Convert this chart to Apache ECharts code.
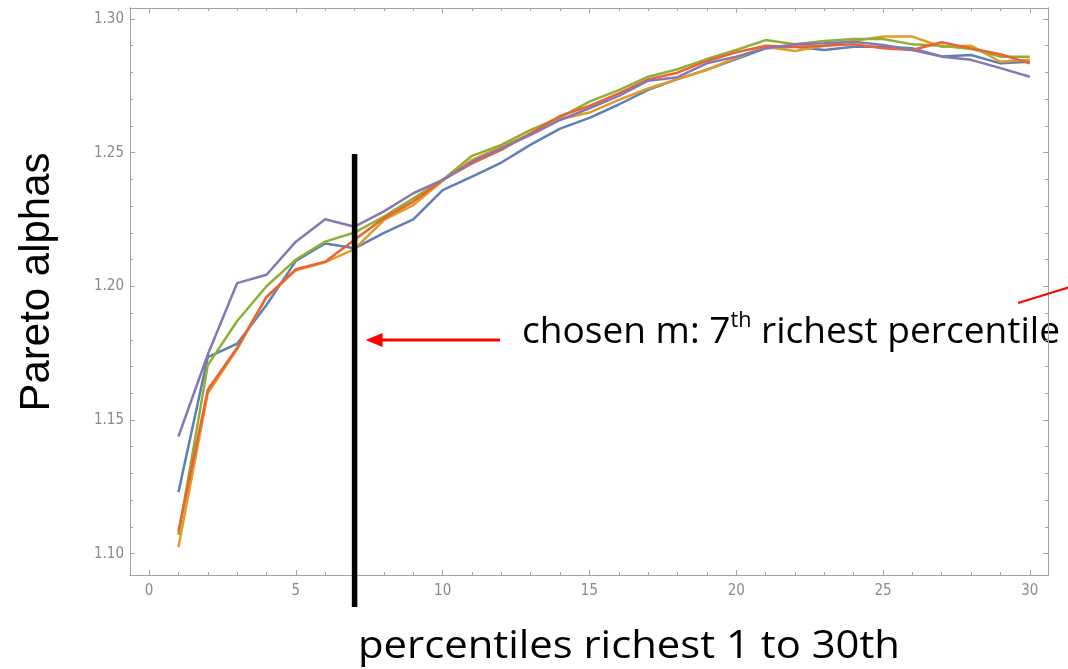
<!DOCTYPE html>
<html>
<head>
<meta charset="utf-8">
<script src="https://cdn.jsdelivr.net/npm/echarts@6/dist/echarts.min.js"></script>
<style>
  html, body { margin: 0; padding: 0; background: #ffffff; }
  #chart { width: 1068px; height: 669px; }
</style>
</head>
<body>
<div id="chart"></div>
<script>
// Percentile rank (1 = richest percentile) used as the threshold m
const percentiles = [1, 2, 3, 4, 5, 6, 7, 8, 9, 10, 11, 12, 13, 14, 15,
                     16, 17, 18, 19, 20, 21, 22, 23, 24, 25, 26, 27, 28, 29, 30];

// Estimated Pareto alpha for each threshold, one array per sample
const alphaSample1 = [1.123, 1.1735, 1.1785, 1.193, 1.2095, 1.216, 1.2142, 1.220, 1.225, 1.236,
                      1.241, 1.2463, 1.253, 1.259, 1.263, 1.268, 1.2735, 1.2775, 1.281, 1.285,
                      1.289, 1.2896, 1.2884, 1.2896, 1.2896, 1.289, 1.286, 1.2865, 1.2834, 1.284];
const alphaSample2 = [1.1025, 1.160, 1.1765, 1.196, 1.206, 1.209, 1.2139, 1.2248, 1.2304, 1.2395,
                      1.2473, 1.2522, 1.257, 1.2625, 1.265, 1.2697, 1.274, 1.2775, 1.281, 1.2855,
                      1.2896, 1.288, 1.290, 1.2918, 1.2934, 1.2934, 1.2896, 1.290, 1.284, 1.2847];
const alphaSample3 = [1.107, 1.1705, 1.187, 1.200, 1.210, 1.2167, 1.2201, 1.2261, 1.2329, 1.2398,
                      1.2488, 1.2529, 1.2585, 1.2632, 1.2691, 1.2734, 1.2784, 1.2812, 1.285, 1.2884,
                      1.2921, 1.2905, 1.2918, 1.2925, 1.2925, 1.2905, 1.290, 1.2888, 1.2859, 1.2859];
const alphaSample4 = [1.1083, 1.1613, 1.177, 1.196, 1.2064, 1.2092, 1.2174, 1.2255, 1.2317, 1.2398,
                      1.246, 1.251, 1.2573, 1.2637, 1.2675, 1.2722, 1.2774, 1.2799, 1.2843, 1.2875,
                      1.290, 1.2896, 1.290, 1.2905, 1.289, 1.2884, 1.2913, 1.289, 1.2868, 1.2834];
const alphaSample5 = [1.1438, 1.1745, 1.2012, 1.2043, 1.2167, 1.2251, 1.2223, 1.228, 1.2348, 1.2398,
                      1.2466, 1.2516, 1.2566, 1.2622, 1.2666, 1.2712, 1.2769, 1.2782, 1.2834, 1.2859,
                      1.289, 1.2905, 1.2909, 1.2915, 1.2903, 1.2884, 1.2859, 1.2847, 1.2816, 1.2784];

const sampleNames = ['sample 1', 'sample 2', 'sample 3', 'sample 4', 'sample 5'];
const sampleColors = ['#5E81B5', '#E19C24', '#8FB032', '#EB6235', '#8778B3'];

// Tick positions and labels
const xMajorTicks = [0, 5, 10, 15, 20, 25, 30];
const xMinorTicks = [0, 1, 2, 3, 4, 5, 6, 7, 8, 9, 10, 11, 12, 13, 14, 15,
                     16, 17, 18, 19, 20, 21, 22, 23, 24, 25, 26, 27, 28, 29, 30];
const yMajorTicks = [1.10, 1.15, 1.20, 1.25, 1.30];
const yTickLabels = ['1.10', '1.15', '1.20', '1.25', '1.30'];
const yMinorTicks = [1.10, 1.11, 1.12, 1.13, 1.14, 1.15, 1.16, 1.17, 1.18, 1.19, 1.20,
                     1.21, 1.22, 1.23, 1.24, 1.25, 1.26, 1.27, 1.28, 1.29, 1.30];

// Chosen threshold and the annotation texts
const chosenPercentile = 7;
const xTitle = 'percentiles richest 1 to 30th';
const yTitle = 'Pareto alphas';
const noteMain = 'chosen m: 7';
const noteSup = 'th';
const noteTail = ' richest percentile';

// Frame ranges (a little padding around the data, like a framed plot)
const X_MIN = -0.65, X_MAX = 30.62;
const Y_MIN = 1.0920, Y_MAX = 1.3041;

const FRAME_COLOR = '#a4a4a4';
const TICK_LABEL_COLOR = '#8a8a8a';
const TICK_FONT = '"Liberation Sans Narrow", "DejaVu Sans Condensed", sans-serif';

function xFrameAxis(position, ticks, len, withLabels) {
  return {
    type: 'value', position: position, min: X_MIN, max: X_MAX,
    axisLine: { show: true, onZero: false, lineStyle: { color: FRAME_COLOR, width: 1 } },
    axisTick: { show: true, inside: true, length: len, customValues: ticks,
                lineStyle: { color: FRAME_COLOR, width: 1 } },
    axisLabel: withLabels ? {
      show: true, customValues: ticks, margin: 9,
      color: TICK_LABEL_COLOR, fontSize: 15, fontFamily: TICK_FONT,
      formatter: v => String(Math.round(v))
    } : { show: false },
    splitLine: { show: false }
  };
}

function yFrameAxis(position, ticks, len, withLabels) {
  return {
    type: 'value', position: position, min: Y_MIN, max: Y_MAX,
    axisLine: { show: true, onZero: false, lineStyle: { color: FRAME_COLOR, width: 1 } },
    axisTick: { show: true, inside: true, length: len, customValues: ticks,
                lineStyle: { color: FRAME_COLOR, width: 1 } },
    axisLabel: withLabels ? {
      show: true, customValues: ticks, margin: 6,
      color: TICK_LABEL_COLOR, fontSize: 15, fontFamily: TICK_FONT,
      formatter: v => yTickLabels[yMajorTicks.findIndex(t => Math.abs(t - v) < 1e-6)] || v.toFixed(2)
    } : { show: false },
    splitLine: { show: false }
  };
}

const allSamples = [alphaSample1, alphaSample2, alphaSample3, alphaSample4, alphaSample5];

const option = {
  animation: false,
  backgroundColor: '#ffffff',
  grid: { left: 130, right: 20, top: 8, bottom: 94, containLabel: false },
  xAxis: [
    xFrameAxis('bottom', xMajorTicks, 5, true),
    xFrameAxis('bottom', xMinorTicks, 3, false),
    xFrameAxis('top', xMajorTicks, 5, false),
    xFrameAxis('top', xMinorTicks, 3, false)
  ],
  yAxis: [
    yFrameAxis('left', yMajorTicks, 5, true),
    yFrameAxis('left', yMinorTicks, 3, false),
    yFrameAxis('right', yMajorTicks, 5, false),
    yFrameAxis('right', yMinorTicks, 3, false)
  ],
  series: allSamples.map((vals, i) => ({
    name: sampleNames[i],
    type: 'line',
    xAxisIndex: 0, yAxisIndex: 0,
    data: percentiles.map((p, k) => [p, vals[k]]),
    showSymbol: false, symbol: 'none',
    lineStyle: { color: sampleColors[i], width: 2.5 },
    emphasis: { disabled: true },
    z: 2 + i
  }))
};

const chart = echarts.init(document.getElementById('chart'), null, { renderer: 'canvas' });
chart.setOption(option);

// Annotations: chosen threshold bar, arrow, and titles
const measureCtx = document.createElement('canvas').getContext('2d');
function textWidth(str, font) { measureCtx.font = font; return measureCtx.measureText(str).width; }

const barX = chart.convertToPixel({ xAxisIndex: 0 }, chosenPercentile);
const barTop = chart.convertToPixel({ yAxisIndex: 0 }, 1.2495);

const noteSize = 36, supSize = 21;
const noteFont = noteSize + 'px "Open Sans"';
const supFont = supSize + 'px "Open Sans"';
const wMain = textWidth(noteMain, noteFont);
const wSup = textWidth(noteSup, supFont);
const wTail = textWidth(noteTail, noteFont);
const noteScale = 538 / (wMain + wSup + wTail);

const xTitleSize = 38;
const xTitleFont = xTitleSize + 'px "Open Sans"';
const xTitleScale = 542 / textWidth(xTitle, xTitleFont);

chart.setOption({
  graphic: [
    { type: 'line', z: 100,
      shape: { x1: barX, y1: barTop, x2: barX, y2: 607 },
      style: { stroke: '#000000', lineWidth: 5.5 } },
    { type: 'line', z: 100,
      shape: { x1: 500, y1: 340, x2: barX + 24, y2: 340 },
      style: { stroke: '#ff0000', lineWidth: 3 } },
    { type: 'polygon', z: 100,
      shape: { points: [[barX + 11, 340], [barX + 28, 333], [barX + 28, 347]] },
      style: { fill: '#ff0000' } },
    { type: 'line', z: 100,
      shape: { x1: 1018, y1: 303, x2: 1070, y2: 287 },
      style: { stroke: '#ff0000', lineWidth: 2 } },
    { type: 'group', x: 522, y: 333, scaleX: noteScale, z: 100,
      children: [
        { type: 'text', x: 0, y: 0,
          style: { text: noteMain, font: noteFont, fill: '#000000', align: 'left', verticalAlign: 'middle' } },
        { type: 'text', x: wMain, y: -12,
          style: { text: noteSup, font: supFont, fill: '#000000', align: 'left', verticalAlign: 'middle' } },
        { type: 'text', x: wMain + wSup, y: 0,
          style: { text: noteTail, font: noteFont, fill: '#000000', align: 'left', verticalAlign: 'middle' } }
      ] },
    { type: 'text', x: 629, y: 647, scaleX: xTitleScale, z: 100,
      style: { text: xTitle, font: xTitleFont, fill: '#000000', align: 'center', verticalAlign: 'middle' } },
    { type: 'text', x: 37, y: 282, rotation: Math.PI / 2, z: 100,
      style: { text: yTitle, font: '42px "Liberation Sans"', fill: '#000000', align: 'center', verticalAlign: 'middle' } }
  ]
});
</script>
</body>
</html>
